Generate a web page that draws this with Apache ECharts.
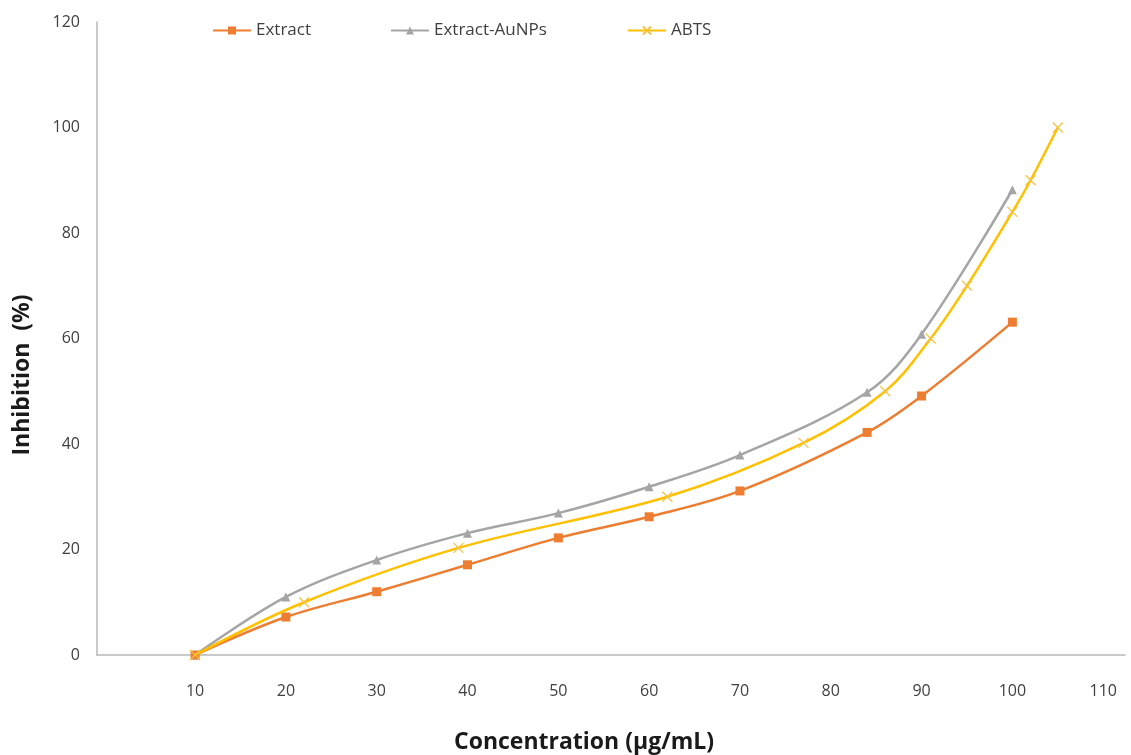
<!DOCTYPE html>
<html>
<head>
<meta charset="utf-8">
<script src="https://cdn.jsdelivr.net/npm/echarts@6/dist/echarts.min.js"></script>
<style>html,body{margin:0;padding:0;background:#fff;}#c{width:1131px;height:755px;}</style>
</head>
<body>
<div id="c"></div>
<script>
const xTicks = [10, 20, 30, 40, 50, 60, 70, 80, 90, 100, 110];
const extractX = [10, 20, 30, 40, 50, 60, 70, 84, 90, 100];
const extractY = [0, 7.2, 12, 17.1, 22.2, 26.2, 31.1, 42.2, 49.1, 63.1];
const auX = [10, 20, 30, 40, 50, 60, 70, 84, 90, 100];
const auY = [0, 11, 18, 23.1, 26.9, 31.9, 37.9, 49.8, 60.8, 88.2];
const abtsX = [10, 22, 39, 62, 77, 86, 91, 95, 100, 102, 105];
const abtsY = [0, 10, 20.3, 30, 40.2, 50, 60, 70, 84, 90, 100];

const pairs = (xs, ys) => xs.map((x, i) => [x, ys[i]]);
const font = '"Open Sans", "Liberation Sans", sans-serif';
const legendText = { fontFamily: font, fontSize: 17, color: '#404040' };
const mkLegend = (name, left) => ({
  top: 22, left: left, padding: 0, itemWidth: 38, itemHeight: 10, itemGap: 0,
  textStyle: legendText, data: [name]
});

const chart = echarts.init(document.getElementById('c'));
chart.setOption({
  animation: false,
  backgroundColor: '#fff',
  grid: { left: 97, top: 22, right: 6, bottom: 100, containLabel: false },
  legend: [mkLegend('Extract', 212), mkLegend('Extract-AuNPs', 390), mkLegend('ABTS', 627)],
  graphic: [
    { type: 'text', x: 22, y: 375, rotation: Math.PI / 2,
      style: { text: 'Inhibition  (%)', fill: '#1a1a1a', font: 'bold 23px ' + font, align: 'center', verticalAlign: 'middle' } },
    { type: 'text', x: 584, y: 742,
      style: { text: 'Concentration (µg/mL)', fill: '#1a1a1a', font: 'bold 23px ' + font, align: 'center', verticalAlign: 'middle' } }
  ],
  xAxis: {
    type: 'value', min: -0.8, max: 112.4,
    axisLine: { show: true, onZero: false, lineStyle: { color: '#b8b8b8', width: 1.5 } },
    axisTick: { show: false },
    splitLine: { show: false },
    axisLabel: { customValues: xTicks, margin: 28, fontFamily: font, fontSize: 16, color: '#404040' }
  },
  yAxis: {
    type: 'value', min: 0, max: 120, interval: 20,
    axisLine: { show: true, onZero: false, lineStyle: { color: '#b8b8b8', width: 1.5 } },
    axisTick: { show: false },
    splitLine: { show: false },
    axisLabel: { margin: 17, fontFamily: font, fontSize: 16, color: '#404040' }
  },
  series: [
    {
      name: 'Extract', type: 'line', smooth: 0.35,
      data: pairs(extractX, extractY),
      symbol: 'rect', symbolSize: 9,
      lineStyle: { color: '#ED7D31', width: 2.5 },
      itemStyle: { color: '#ED7D31' }, z: 3
    },
    {
      name: 'Extract-AuNPs', type: 'line', smooth: 0.35,
      data: pairs(auX, auY),
      symbol: 'triangle', symbolSize: 9,
      lineStyle: { color: '#A5A5A5', width: 2.5 },
      itemStyle: { color: '#A5A5A5' }, z: 2
    },
    {
      name: 'ABTS', type: 'line', smooth: 0.35,
      data: pairs(abtsX, abtsY),
      symbol: 'path://M0,0L10,10M10,0L0,10', symbolSize: 10,
      lineStyle: { color: '#FFC000', width: 2.5 },
      itemStyle: { color: 'rgba(0,0,0,0)', borderColor: '#F5C242', borderWidth: 1.2 }, z: 4
    }
  ]
});
</script>
</body>
</html>
